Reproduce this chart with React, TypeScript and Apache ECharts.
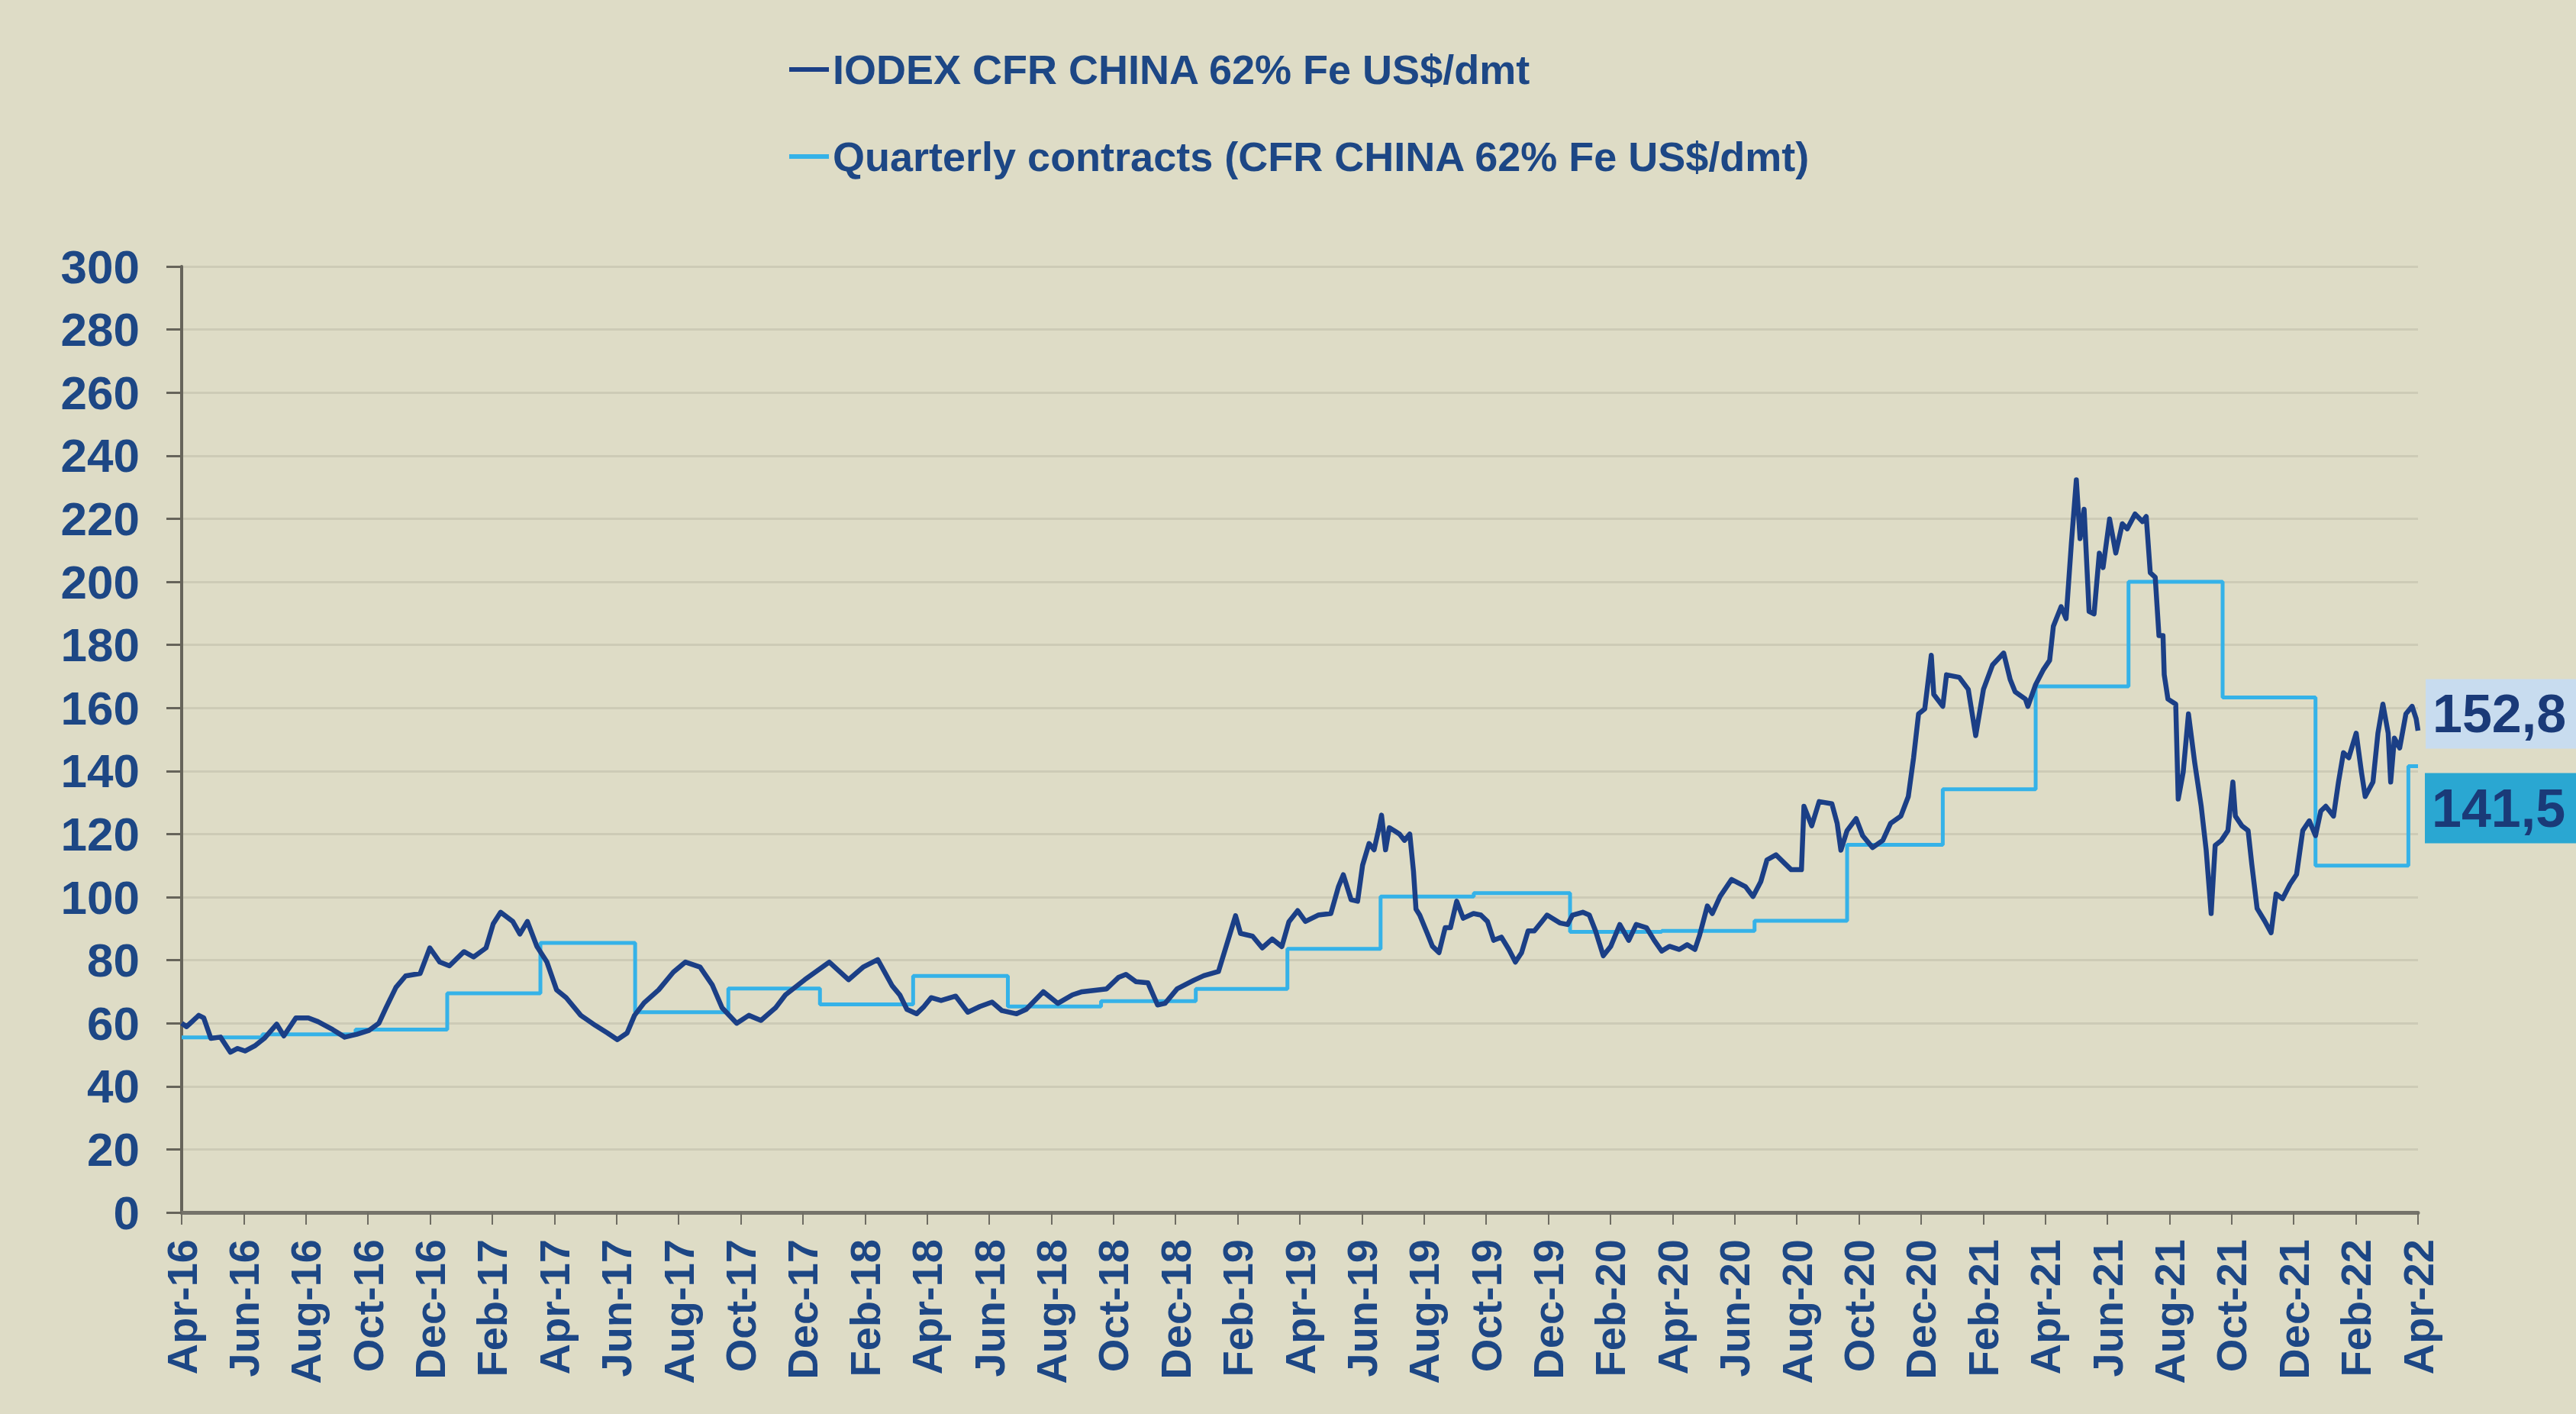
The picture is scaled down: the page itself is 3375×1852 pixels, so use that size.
import React, { useEffect, useRef } from 'react';
import * as echarts from 'echarts';

// x positions are months since April 2016 (0 = Apr-16, 72 = Apr-22)
const xTickLabels = [
  'Apr-16', 'Jun-16', 'Aug-16', 'Oct-16', 'Dec-16', 'Feb-17', 'Apr-17', 'Jun-17', 'Aug-17', 'Oct-17',
  'Dec-17', 'Feb-18', 'Apr-18', 'Jun-18', 'Aug-18', 'Oct-18', 'Dec-18', 'Feb-19', 'Apr-19', 'Jun-19',
  'Aug-19', 'Oct-19', 'Dec-19', 'Feb-20', 'Apr-20', 'Jun-20', 'Aug-20', 'Oct-20', 'Dec-20', 'Feb-21',
  'Apr-21', 'Jun-21', 'Aug-21', 'Oct-21', 'Dec-21', 'Feb-22', 'Apr-22',
];

const seriesNames = [
  'IODEX CFR CHINA 62% Fe US$/dmt',
  'Quarterly contracts (CFR CHINA 62% Fe US$/dmt)',
];

// IODEX CFR China 62% Fe, [month since Apr-16, US$/dmt]
const iodexPoints: [number, number][] = [
  [0, 60], [0.16, 58.9], [0.55, 62.5], [0.71, 61.7], [0.94, 55.2], [1.25, 55.6], [1.57, 50.8], [1.8, 52],
  [2.04, 51.2], [2.35, 52.8], [2.66, 55.2], [3.06, 59.7], [3.29, 56], [3.68, 61.7], [4.08, 61.7], [4.39, 60.5],
  [4.86, 58], [5.25, 55.6], [5.64, 56.5], [6.03, 57.7], [6.35, 60], [6.58, 64.9], [6.9, 71.4], [7.21, 75],
  [7.68, 75.8], [7.99, 83.9], [8.31, 79.4], [8.62, 78.2], [9.09, 82.7], [9.4, 81], [9.8, 83.9], [10.03, 91.5],
  [10.27, 95.2], [10.66, 92.3], [10.89, 88.3], [11.13, 92.3], [11.44, 84.3], [11.76, 79.4], [12.07, 70.6],
  [12.38, 68.1], [12.85, 62.5], [13.32, 59.3], [13.71, 56.9], [14.03, 54.8], [14.34, 56.9], [14.58, 62.5],
  [14.89, 66.5], [15.36, 70.6], [15.83, 76.2], [16.22, 79.4], [16.69, 77.8], [17.08, 72.2], [17.4, 64.9],
  [17.87, 60], [18.26, 62.5], [18.65, 60.9], [19.12, 64.9], [19.44, 69], [20.06, 73.8], [20.85, 79.4],
  [21.47, 73.8], [21.94, 77.8], [22.41, 80.2], [22.88, 71.8], [23.12, 69], [23.35, 64.4], [23.66, 63],
  [23.9, 65.3], [24.13, 68.1], [24.45, 67.2], [24.92, 68.6], [25.31, 63.5], [25.7, 65.3], [26.09, 66.7],
  [26.41, 64], [26.88, 63], [27.19, 64.4], [27.74, 70], [28.21, 66.3], [28.68, 69], [28.99, 70], [29.78, 70.9],
  [30.17, 74.6], [30.4, 75.5], [30.72, 73.2], [31.11, 72.8], [31.42, 65.8], [31.66, 66.3], [32.05, 70.9],
  [32.6, 73.7], [32.91, 75.1], [33.38, 76.4], [33.7, 86.7], [33.93, 94.1], [34.09, 88.5], [34.48, 87.6],
  [34.79, 83.9], [35.11, 86.7], [35.42, 84.3], [35.65, 92.2], [35.93, 95.7], [36.18, 92.3], [36.59, 94.3],
  [37.0, 94.8], [37.24, 103.2], [37.4, 107.1], [37.65, 99.2], [37.86, 98.7], [38.02, 110.1], [38.23, 117],
  [38.39, 115], [38.55, 122], [38.63, 126], [38.76, 115], [38.88, 122], [39.05, 121], [39.21, 120],
  [39.37, 118], [39.54, 120], [39.66, 108.1], [39.74, 96.2], [39.86, 94.3], [40.11, 88.3], [40.27, 84.4],
  [40.48, 82.4], [40.68, 90.3], [40.85, 90.3], [41.05, 98.7], [41.26, 93.3], [41.59, 94.8], [41.83, 94.3],
  [42.04, 92.3], [42.24, 86.3], [42.49, 87.3], [42.73, 83.4], [42.94, 79.4], [43.14, 82.4], [43.35, 89.3],
  [43.55, 89.3], [43.8, 92.3], [43.96, 94.3], [44.13, 93.3], [44.37, 91.8], [44.62, 91.3], [44.78, 94.3],
  [45.11, 95.2], [45.32, 94.3], [45.52, 89.3], [45.77, 81.4], [46.01, 84.4], [46.3, 91.3], [46.59, 86.3],
  [46.83, 91.3], [47.16, 90.3], [47.41, 86.3], [47.65, 82.9], [47.9, 84.4], [48.22, 83.4], [48.47, 84.9],
  [48.72, 83.4], [48.87, 87.9], [49.12, 97.2], [49.28, 94.8], [49.53, 100.2], [49.9, 105.6], [50.35, 103.3],
  [50.59, 100.2], [50.84, 104.9], [51.04, 111.8], [51.33, 113.4], [51.58, 111], [51.82, 108.7], [52.15, 108.7],
  [52.23, 128.8], [52.48, 122.6], [52.72, 130.3], [53.13, 129.6], [53.3, 123.4], [53.42, 114.9], [53.62, 121.1],
  [53.91, 124.9], [54.12, 119.5], [54.44, 115.7], [54.77, 118], [55.02, 123.4], [55.35, 125.7], [55.59, 131.9],
  [55.76, 144.2], [55.92, 158.1], [56.12, 159.7], [56.33, 176.7], [56.41, 164.3], [56.7, 160.5], [56.82, 170.5],
  [57.23, 169.7], [57.52, 165.9], [57.76, 151.2], [58.01, 165.9], [58.3, 173.6], [58.66, 177.4], [58.87, 169],
  [59.03, 165.1], [59.36, 162.8], [59.44, 160.5], [59.69, 167.4], [59.93, 172], [60.14, 175.1], [60.26, 185.9],
  [60.51, 192.1], [60.67, 188.3], [60.84, 212.2], [61.0, 232.3], [61.12, 213.7], [61.25, 223], [61.41, 190.6],
  [61.57, 189.8], [61.74, 209.1], [61.86, 204.5], [62.07, 219.9], [62.27, 209.1], [62.48, 218.4], [62.64, 216.8],
  [62.89, 221.5], [63.13, 219.1], [63.25, 220.7], [63.38, 202.9], [63.54, 201.4], [63.66, 182.9], [63.79, 182.9],
  [63.83, 170.5], [63.95, 162.8], [64.2, 161.2], [64.28, 131.1], [64.44, 139.6], [64.61, 158.1], [64.81, 142.7],
  [65.02, 128.8], [65.18, 114.9], [65.34, 94.8], [65.47, 116.4], [65.67, 118], [65.88, 121.1], [66.04, 136.5],
  [66.12, 125.7], [66.33, 122.6], [66.53, 121.1], [66.65, 110.3], [66.82, 96.4], [67.06, 92.5], [67.27, 88.7],
  [67.43, 101], [67.64, 99.5], [67.88, 104.1], [68.09, 107.2], [68.29, 121.1], [68.5, 124.2], [68.7, 119.5],
  [68.87, 127.3], [69.03, 128.8], [69.28, 125.7], [69.44, 136.5], [69.6, 145.8], [69.77, 144.2], [70.01, 152],
  [70.18, 139.6], [70.3, 131.9], [70.55, 136.5], [70.71, 152], [70.87, 161.2], [71.04, 152], [71.12, 136.5],
  [71.24, 150.4], [71.41, 147.3], [71.61, 158.1], [71.81, 160.5], [71.94, 156.6], [72, 152.8],
];

// Quarterly contract price: step start (months since Apr-16) and price
const contractMonths = [
  0, 2.6, 5.6, 8.55, 11.55, 14.6, 17.6, 20.55, 23.55, 26.6, 29.6, 32.65, 35.6, 38.6, 41.6, 44.7, 47.65,
  50.64, 53.62, 56.7, 59.69, 62.68, 65.71, 68.7, 71.69, 72,
];
const contractPrices = [
  55.5, 56.5, 58, 69.5, 85.5, 63.5, 71, 66, 75, 65.3, 67, 70.9, 83.6, 100.2, 101.3, 89, 89.3,
  92.5, 116.6, 134.2, 166.8, 200, 163.3, 110, 141.5, 141.5,
];

const FONT = '"Liberation Sans", Arial, Helvetica, sans-serif';
const NAVY_TEXT = '#1D4785';

export default function App() {
  const ref = useRef<HTMLDivElement>(null);

  useEffect(() => {
    document.body.style.margin = '0';
    const chart = echarts.init(ref.current as HTMLDivElement, null, { renderer: 'svg' });
    const fmt = (v: number) => v.toFixed(1).replace('.', ',');
    const contractData = contractMonths.map((m, i) => [m, contractPrices[i]]);

    chart.setOption({
      animation: false,
      backgroundColor: '#DEDCC6',
      textStyle: { fontFamily: FONT },
      legend: {
        orient: 'vertical',
        left: 1029,
        top: 56,
        itemWidth: 52,
        itemHeight: 6,
        itemGap: 54,
        icon: 'rect',
        data: [seriesNames[0], seriesNames[1]],
        textStyle: {
          fontFamily: FONT,
          fontSize: 54,
          fontWeight: 'bold',
          color: NAVY_TEXT,
          lineHeight: 60,
        },
      },
      grid: { left: 238, right: 207, top: 349, bottom: 264, containLabel: false },
      xAxis: {
        type: 'value',
        min: 0,
        max: 72,
        interval: 2,
        axisLine: { show: true, onZero: false, lineStyle: { color: '#75736A', width: 5 } },
        axisTick: { show: true, length: 16, lineStyle: { color: '#6E6C62', width: 2 } },
        splitLine: { show: false },
        axisLabel: {
          rotate: 90,
          margin: 35,
          fontFamily: FONT,
          fontSize: 56,
          fontWeight: 'bold',
          color: NAVY_TEXT,
          formatter: (v: number) => xTickLabels[Math.round(v / 2)] ?? '',
        },
      },
      yAxis: {
        type: 'value',
        min: 0,
        max: 300,
        interval: 20,
        axisLine: { show: true, lineStyle: { color: '#66645A', width: 4 } },
        axisTick: { show: true, length: 20, lineStyle: { color: '#66645A', width: 3 } },
        splitLine: { show: true, lineStyle: { color: '#CDCBB6', width: 3 } },
        axisLabel: {
          margin: 55,
          fontFamily: FONT,
          fontSize: 62,
          fontWeight: 'bold',
          color: NAVY_TEXT,
        },
      },
      series: [
        {
          name: seriesNames[1],
          type: 'line',
          step: 'end',
          showSymbol: false,
          symbol: 'none',
          data: contractData,
          color: '#35B2E8',
          lineStyle: { color: '#35B2E8', width: 5 },
          endLabel: {
            show: true,
            distance: 9,
            offset: [0, 55],
            formatter: (p: any) => fmt(p.value[1]),
            fontFamily: FONT,
            fontSize: 70,
            fontWeight: 'bold',
            color: '#1A3A78',
            backgroundColor: '#2AA7D2',
            lineHeight: 72,
            padding: [10, 40, 10, 9],
          },
          z: 2,
        },
        {
          name: seriesNames[0],
          type: 'line',
          showSymbol: false,
          symbol: 'none',
          data: iodexPoints,
          color: '#1B3F86',
          lineStyle: { color: '#1B3F86', width: 6.5, join: 'round' },
          endLabel: {
            show: true,
            distance: 10,
            offset: [0, -22],
            formatter: (p: any) => fmt(p.value[1]),
            fontFamily: FONT,
            fontSize: 70,
            fontWeight: 'bold',
            color: '#1A3A78',
            backgroundColor: '#C8DCEF',
            lineHeight: 72,
            padding: [10, 40, 9, 9],
          },
          z: 3,
        },
      ],
    });

    return () => chart.dispose();
  }, []);

  return <div ref={ref} style={{ width: 3375, height: 1852 }} />;
}
